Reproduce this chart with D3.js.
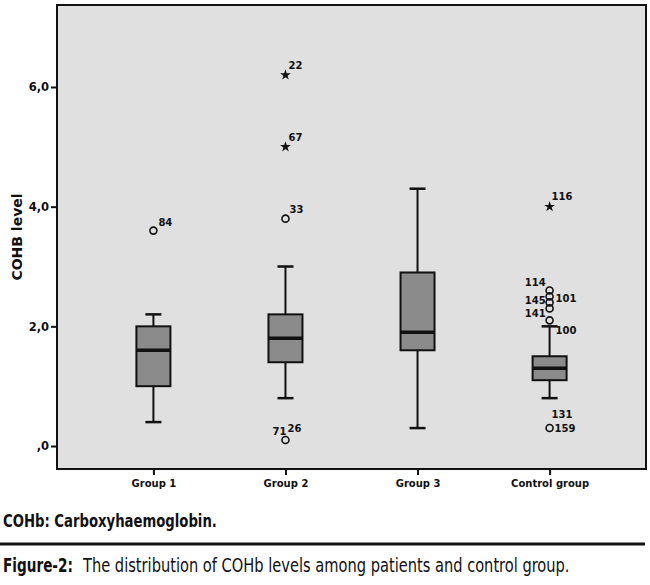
<!DOCTYPE html>
<html>
<head>
<meta charset="utf-8">
<script src="https://cdn.jsdelivr.net/npm/d3@7"></script>
<style>
  body { margin: 0; background: #fff; }
  svg { display: block; }
  .tick text { font-family: "DejaVu Sans", sans-serif; font-weight: bold; fill: #111; }
  .caption { font-family: "Liberation Sans Narrow", "DejaVu Sans Condensed", "Liberation Sans", sans-serif; fill: #111; }
</style>
</head>
<body>
<svg id="chart" width="650" height="585"></svg>
<script>
// box summary per group
const groups = ["Group 1", "Group 2", "Group 3", "Control group"]
const whiskerLow = [0.4, 0.8, 0.3, 0.8]
const q1 = [1.0, 1.4, 1.6, 1.1]
const median = [1.6, 1.8, 1.9, 1.3]
const q3 = [2.0, 2.2, 2.9, 1.5]
const whiskerHigh = [2.2, 3.0, 4.3, 2.0]

// outliers: circle = outlier, star = extreme
const outlierGroup = ["Group 1", "Group 2", "Group 2", "Group 2", "Group 2",
  "Control group", "Control group", "Control group", "Control group", "Control group", "Control group", "Control group"]
const outlierValue = [3.6, 6.2, 5.0, 3.8, 0.1, 4.0, 2.6, 2.5, 2.4, 2.3, 2.1, 0.3]
const outlierExtreme = [false, true, true, false, false, true, false, false, false, false, false, false]
const outlierCases = [["84"], ["22"], ["67"], ["33"], ["71", "26"], ["116"], ["114"], ["101"], ["145"], ["141"], ["100"], ["131", "159"]]

const yTicks = [0, 2, 4, 6]

// where each case number sits next to its point
const labelPlace = {
  "84": [5, -5, "start"], "22": [3, -6, "start"], "67": [3, -6, "start"], "33": [4, -6, "start"],
  "71": [1, -5, "end"], "26": [2, -8, "start"], "116": [2, -7, "start"],
  "114": [-4, -4, "end"], "101": [6, 6, "start"], "145": [-4, 2, "end"], "141": [-4, 9, "end"],
  "100": [6, 14, "start"], "131": [2, -10, "start"], "159": [5, 4, "start"]
}

const svg = d3.select("#chart")
const plotL = 57, plotR = 646, plotT = 5, plotB = 469

const x = d3.scalePoint().domain(groups).range([plotL, plotR]).padding(0.73)
const y = d3.scaleLinear().domain([-0.384, 7.37]).range([plotB, plotT])

svg.append("rect")
  .attr("x", plotL).attr("y", plotT)
  .attr("width", plotR - plotL).attr("height", plotB - plotT)
  .attr("fill", "#e0e0e0")

const boxW = 34, capW = 16

const boxes = svg.append("g").selectAll("g")
  .data(groups)
  .join("g")

boxes.append("line")
  .attr("x1", d => x(d)).attr("x2", d => x(d))
  .attr("y1", (d, i) => y(whiskerLow[i])).attr("y2", (d, i) => y(whiskerHigh[i]))
  .attr("stroke", "#111").attr("stroke-width", 2)

boxes.selectAll(".cap")
  .data((d, i) => [[d, whiskerLow[i]], [d, whiskerHigh[i]]])
  .join("line")
  .attr("class", "cap")
  .attr("x1", d => x(d[0]) - capW / 2).attr("x2", d => x(d[0]) + capW / 2)
  .attr("y1", d => y(d[1])).attr("y2", d => y(d[1]))
  .attr("stroke", "#111").attr("stroke-width", 2.5)

boxes.append("rect")
  .attr("x", d => x(d) - boxW / 2)
  .attr("y", (d, i) => y(q3[i]))
  .attr("width", boxW)
  .attr("height", (d, i) => y(q1[i]) - y(q3[i]))
  .attr("fill", "#8b8b8b").attr("stroke", "#111").attr("stroke-width", 2)

boxes.append("line")
  .attr("x1", d => x(d) - boxW / 2).attr("x2", d => x(d) + boxW / 2)
  .attr("y1", (d, i) => y(median[i])).attr("y2", (d, i) => y(median[i]))
  .attr("stroke", "#111").attr("stroke-width", 3.5)

// outlier marks
const pts = svg.append("g").selectAll("g")
  .data(outlierValue.map((v, i) => i))
  .join("g")
  .attr("transform", i => `translate(${x(outlierGroup[i])},${y(outlierValue[i])})`)

pts.filter(i => !outlierExtreme[i]).append("circle")
  .attr("r", 3.5).attr("fill", "none").attr("stroke", "#111").attr("stroke-width", 1.6)

pts.filter(i => outlierExtreme[i]).append("path")
  .attr("d", d3.symbol(d3.symbolStar, 36))
  .attr("fill", "#111")

pts.selectAll("text")
  .data(i => outlierCases[i])
  .join("text")
  .attr("x", d => labelPlace[d][0])
  .attr("y", d => labelPlace[d][1])
  .attr("text-anchor", d => labelPlace[d][2])
  .attr("font-family", "DejaVu Sans, sans-serif")
  .attr("font-weight", "bold")
  .attr("font-size", 10)
  .attr("fill", "#111")
  .text(d => d)

// axes
const yAxis = svg.append("g")
  .attr("transform", `translate(${plotL},0)`)
  .call(d3.axisLeft(y).tickValues(yTicks).tickSize(6).tickPadding(2)
    .tickFormat(d => d === 0 ? ",0" : d3.format(".1f")(d).replace(".", ",")))
yAxis.select(".domain").remove()
yAxis.selectAll(".tick line").attr("stroke", "#111").attr("stroke-width", 2)
yAxis.selectAll(".tick text").attr("font-size", 11.5)

const xAxis = svg.append("g")
  .attr("transform", `translate(0,${plotB})`)
  .call(d3.axisBottom(x).tickSize(6).tickPadding(5))
xAxis.select(".domain").remove()
xAxis.selectAll(".tick line").attr("stroke", "#111").attr("stroke-width", 2)
xAxis.selectAll(".tick text").attr("font-size", 10)

svg.append("rect")
  .attr("x", plotL).attr("y", plotT)
  .attr("width", plotR - plotL).attr("height", plotB - plotT)
  .attr("fill", "none").attr("stroke", "#111").attr("stroke-width", 2)

svg.append("text")
  .attr("transform", `translate(22,${(plotT + plotB) / 2}) rotate(-90)`)
  .attr("text-anchor", "middle")
  .attr("font-family", "DejaVu Sans, sans-serif")
  .attr("font-weight", "bold")
  .attr("font-size", 14)
  .attr("fill", "#111")
  .text("COHB level")

// captions under the chart: squeeze each one to the width it has in the figure
function caption(str, x0, base, size, bold, width) {
  const t = svg.append("text")
    .attr("class", "caption")
    .attr("font-size", size)
    .attr("font-weight", bold ? "bold" : "normal")
    .text(str)
  const k = width / t.node().getComputedTextLength()
  t.attr("transform", `translate(${x0},${base}) scale(${k},1)`)
}

caption("COHb: Carboxyhaemoglobin.", 3, 527, 18, true, 214)

svg.append("line")
  .attr("x1", 0).attr("x2", 645).attr("y1", 544).attr("y2", 544)
  .attr("stroke", "#111").attr("stroke-width", 3)

caption("Figure-2:", 3, 572, 19, true, 70)
caption("The distribution of COHb levels among patients and control group.", 83, 572, 19, false, 487)
</script>
</body>
</html>
